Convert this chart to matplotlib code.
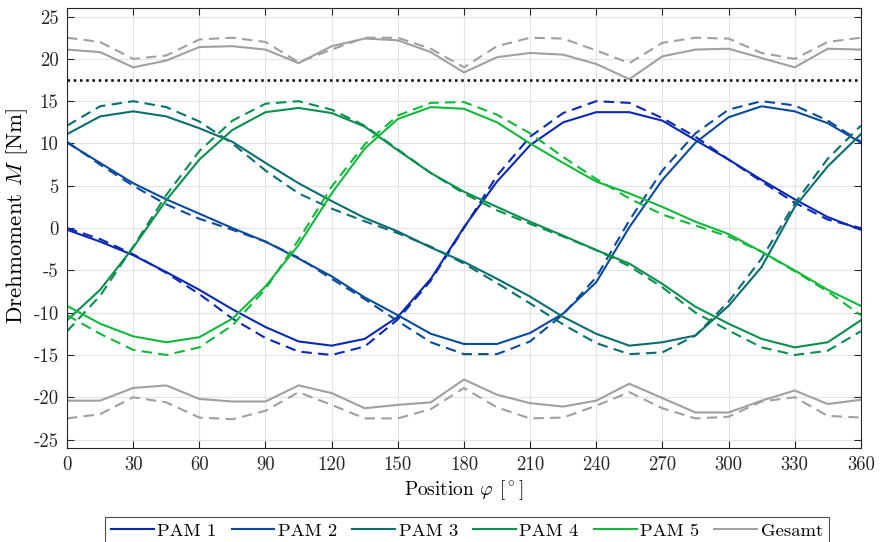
import numpy as np
import matplotlib
matplotlib.use("Agg")
import matplotlib.pyplot as plt

plt.rcParams["font.family"] = ["cmr10", "DejaVu Serif"]
plt.rcParams["mathtext.fontset"] = "cm"
plt.rcParams["axes.unicode_minus"] = False
plt.rcParams["axes.formatter.use_mathtext"] = False

# Rotor position in degrees
position = np.arange(0, 361, 15)

# Torque per phase module: measured (solid) and ideal (dashed)
pam1 = [-0.2, -1.6, -3.2, -5.2, -7.3, -9.6, -11.7, -13.4, -13.9, -13.1, -10.5, -6.0, 0.1,
        5.5, 9.8, 12.5, 13.7, 13.7, 12.7, 10.4, 8.1, 5.7, 3.4, 1.3, -0.2]
pam1_ideal = [0.0, -1.3, -3.1, -5.3, -7.8, -10.7, -13.0, -14.6, -15.0, -14.0, -10.8, -6.2, 0.0,
              6.2, 10.8, 13.6, 15.0, 14.8, 13.0, 10.8, 8.1, 5.5, 3.0, 1.0, 0.0]

pam2 = [10.1, 7.7, 5.3, 3.4, 1.7, 0.0, -1.6, -3.6, -5.7, -8.2, -10.3, -12.5, -13.7,
        -13.7, -12.4, -10.1, -6.4, 0.1, 5.7, 10.1, 13.1, 14.4, 13.8, 12.4, 10.1]
pam2_ideal = [10.2, 7.5, 5.0, 2.8, 1.1, -0.2, -1.6, -3.5, -6.0, -8.4, -11.0, -13.5, -14.9,
              -14.9, -13.4, -10.2, -5.8, 0.9, 6.8, 11.2, 14.0, 15.0, 14.5, 12.7, 10.2]

pam3 = [11.1, 13.2, 13.8, 13.2, 11.8, 10.2, 7.7, 5.3, 3.2, 1.2, -0.4, -2.3, -4.0,
        -6.0, -8.1, -10.5, -12.5, -13.9, -13.5, -12.7, -9.2, -4.6, 2.5, 7.3, 11.1]
pam3_ideal = [12.1, 14.4, 15.0, 14.3, 12.6, 10.0, 6.8, 4.1, 2.3, 0.8, -0.6, -2.2, -4.2,
              -6.5, -8.9, -11.4, -13.6, -14.9, -14.7, -12.7, -8.7, -3.6, 2.9, 8.2, 12.1]

pam4 = [-10.9, -7.3, -2.3, 3.3, 8.1, 11.6, 13.7, 14.2, 13.6, 12.0, 9.2, 6.5, 4.3,
        2.5, 0.75, -0.9, -2.6, -4.2, -6.6, -9.3, -11.3, -13.1, -14.1, -13.5, -10.9]
pam4_ideal = [-12.2, -8.0, -2.2, 3.9, 9.1, 12.7, 14.7, 15.0, 14.0, 12.1, 9.3, 6.5, 4.1,
              2.1, 0.5, -1.0, -2.6, -4.5, -7.0, -10.0, -12.1, -14.1, -15.0, -14.5, -12.2]

pam5 = [-9.2, -11.3, -12.8, -13.5, -12.9, -10.7, -6.9, -2.0, 4.1, 9.4, 12.9, 14.3, 14.1,
        12.5, 10.0, 7.7, 5.5, 4.1, 2.5, 0.75, -0.7, -2.8, -5.0, -7.3, -9.2]
pam5_ideal = [-10.3, -12.5, -14.4, -15.0, -14.1, -11.5, -7.2, -1.4, 4.9, 9.9, 13.3, 14.8, 14.9,
              13.4, 11.2, 8.4, 5.8, 3.5, 1.6, 0.3, -1.0, -2.8, -5.1, -7.5, -10.3]

# Total torque envelope (upper and lower)
total_upper = [21.1, 20.8, 19.0, 19.8, 21.4, 21.5, 21.1, 19.5, 21.5, 22.4, 22.2, 20.8, 18.4,
               20.2, 20.7, 20.5, 19.4, 17.6, 20.3, 21.1, 21.2, 20.1, 19.0, 21.2, 21.1]
total_upper_ideal = [22.5, 22.0, 20.0, 20.4, 22.3, 22.5, 22.0, 19.6, 21.1, 22.5, 22.5, 21.2, 19.0,
                     21.5, 22.5, 22.4, 21.0, 19.5, 21.9, 22.5, 22.4, 20.7, 20.0, 22.0, 22.5]
total_lower = [-20.4, -20.4, -18.9, -18.6, -20.2, -20.5, -20.5, -18.6, -19.5, -21.3, -20.9, -20.6, -17.9,
               -19.7, -20.7, -21.1, -20.4, -18.4, -20.1, -21.8, -21.8, -20.4, -19.2, -20.8, -20.3]
total_lower_ideal = [-22.5, -22.0, -20.0, -20.6, -22.4, -22.6, -21.6, -19.4, -20.9, -22.5, -22.5, -21.4, -18.9,
                     -21.2, -22.5, -22.4, -21.0, -19.4, -21.3, -22.5, -22.3, -20.5, -20.0, -22.2, -22.4]

required_torque = 17.5

names = ["PAM 1", "PAM 2", "PAM 3", "PAM 4", "PAM 5"]
colors = ["#0a28b4", "#0b4b9c", "#0b6e6e", "#0b8f4e", "#12b83c"]
gray = "#a0a0a0"

fig = plt.figure(figsize=(8.82, 5.42), dpi=100)
ax = fig.add_axes([0.076, 0.1734, 0.9, 0.8116])

lw = 1.5
dash = (5, 3)
measured = [pam1, pam2, pam3, pam4, pam5]
ideal = [pam1_ideal, pam2_ideal, pam3_ideal, pam4_ideal, pam5_ideal]

handles = []
for name, c, m, i in zip(names, colors, measured, ideal):
    ax.plot(position, i, color=c, lw=lw, dashes=dash)
    h, = ax.plot(position, m, color=c, lw=lw, label=name)
    handles.append(h)

ax.plot(position, total_upper_ideal, color=gray, lw=lw, dashes=dash)
ax.plot(position, total_lower_ideal, color=gray, lw=lw, dashes=dash)
ax.plot(position, total_upper, color=gray, lw=lw)
hg, = ax.plot(position, total_lower, color=gray, lw=lw, label="Gesamt")
handles.append(hg)

ax.axhline(required_torque, color="black", lw=1.8, linestyle=(0, (1, 1.5)))

ax.set_xlim(0, 360)
ax.set_ylim(-26, 26)
ax.set_xticks(np.arange(0, 361, 30))
ax.set_yticks(np.arange(-25, 26, 5))
ax.grid(True, color="#e3e3e3", lw=0.8)
ax.set_axisbelow(True)
ax.tick_params(direction="in", length=5, width=0.8, top=True, right=True,
               labelsize=13.5, colors="#262626", pad=6)
for s in ax.spines.values():
    s.set_color("#262626")
    s.set_linewidth(0.8)

ax.set_xlabel(r"Position $\varphi$ $[^\circ]$", fontsize=14, labelpad=3)
ax.set_ylabel(r"Drehmoment $M$ [Nm]", fontsize=16.5)
ax.yaxis.set_label_coords(-0.047, 0.528)

leg = fig.legend(handles=handles, loc="upper center", bbox_to_anchor=(0.5295, 0.046),
                 ncol=6, fontsize=13.4, frameon=True, fancybox=False,
                 handlelength=2.3, handletextpad=0.2, columnspacing=0.8,
                 borderpad=0.3, borderaxespad=0)
leg.get_frame().set_edgecolor("#262626")
leg.get_frame().set_linewidth(0.8)

fig.savefig("out.png", dpi=100)
